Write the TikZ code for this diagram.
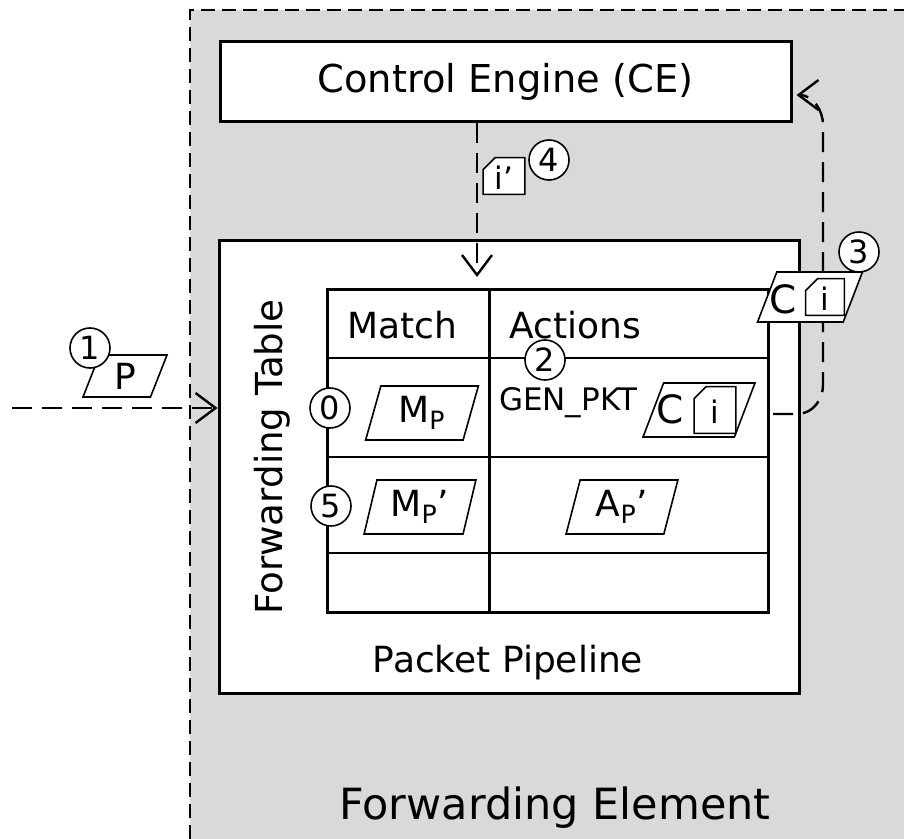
\documentclass[tikz,border=0pt]{standalone}
\usepackage{fontspec}
\setmainfont{DejaVu Sans}
\usetikzlibrary{arrows.meta,shapes.geometric,calc}
\definecolor{fegray}{RGB}{217,217,217}
% small packet with a cut corner: name, position, width, height, text
\newcommand{\pkttag}[5]{%
  \node[minimum width=#3,minimum height=#4,inner sep=0pt] (#1) at (#2) {};
  \draw[fill=white,line width=0.8pt] (#1.south west) -- ([yshift=-6pt]#1.north west)
    -- ([xshift=6pt]#1.north west) -- (#1.north east) -- (#1.south east) -- cycle;
  \node[font=\fontsize{15.5}{16}\selectfont] (#1-text) at ([yshift=-1pt]#1.center) {#5};}

\begin{document}
\begin{tikzpicture}[x=0.5pt,y=-0.5pt,>={Straight Barb[length=10pt,width=15pt]},
  every node/.style={font=\fontsize{18}{21}\selectfont},
  box/.style={draw,line width=1.5pt,fill=white},
  flow/.style={->,line width=1.2pt,dash pattern=on 10pt off 5pt},
  pkt/.style={trapezium,trapezium left angle=75,trapezium right angle=105,
    trapezium stretches=true,draw,fill=white,line width=0.8pt,inner sep=0pt},
  num/.style={circle,draw,fill=white,line width=0.8pt,minimum size=20pt,
    inner sep=0pt,font=\fontsize{16}{16}\selectfont}]
  \useasboundingbox (0,0) rectangle (904,839);
  % forwarding element
  \fill[fegray] (190,10) rectangle (904,839);
  \draw[line width=1pt,dash pattern=on 7pt off 3.5pt] (190,839) -- (190,10) -- (904,10);
  \node[font=\fontsize{21.5}{25}\selectfont] (fe) at (555,808) {Forwarding Element};

  \node[box,minimum width=285.5pt,minimum height=40pt,font=\fontsize{19.2}{22}\selectfont] (ce) at (505.5,82) {Control Engine (CE)};
  \node[box,minimum width=290pt,minimum height=226pt] (pp) at (509,467) {};
  \node (pplabel) at (508,663) {Packet Pipeline};

  % forwarding table
  \draw[line width=1.5pt] (327,290) rectangle (768,612) (489,290) -- (489,612);
  \foreach \y in {358,457,553}
    \draw[line width=1pt] (327,\y) -- (768,\y);
  \node[rotate=90,font=\fontsize{18.6}{21}\selectfont] (ft) at (272,457) {Forwarding Table};
  \node (match) at (402,325) {Match};
  \node (actions) at (575,325) {Actions};

  \node[pkt,minimum width=56.5pt,minimum height=27pt] (mp) at (422,413) {M\textsubscript{P}};
  \node[font=\fontsize{15.5}{18}\selectfont] (genpkt) at (568,403) {GEN\_PKT};
  \node[pkt,minimum width=56pt,minimum height=27pt] (gen) at (699,410) {\phantom{C}};
  \node[font=\fontsize{19.5}{22}\selectfont] (genc) at (670,409) {C};
  \pkttag{geni}{715,410}{20.5pt}{23pt}{i}
  \node[pkt,minimum width=56pt,minimum height=27pt] (mp2) at (420,507) {M\textsubscript{P}’};
  \node[pkt,minimum width=56pt,minimum height=27pt] (ap2) at (622,507) {A\textsubscript{P}’};

  % packet flows
  \coordinate (in) at (12,408);
  \draw[flow] (in) -- (in -| pp.west);
  \node[pkt,minimum width=42pt,minimum height=21pt] (p) at (125,376) {P};

  \coordinate (down) at (477,277);
  \draw[flow] (down |- ce.south) -- (down);
  \pkttag{itag}{504,176}{20.5pt}{18pt}{i’}

  \coordinate (out) at (773,414);
  \draw[flow] (out) -- (797,414) to[out=0,in=-90] (823,385) -- (823,125)
    to[out=90,in=0] ($(ce.east)+(4,13)$);
  \node[pkt,minimum width=52.5pt,minimum height=25pt] (sent) at (810,297) {\phantom{C}};
  \node[font=\fontsize{19.5}{22}\selectfont] (sentc) at (783,299) {C};
  \pkttag{senti}{825,297}{19pt}{18pt}{i}

  % steps
  \node[num] (s0) at (330,408) {0};
  \node[num] (s1) at (90,348) {1};
  \node[num] (s2) at (545,360) {2};
  \node[num] (s3) at (859,252) {3};
  \node[num] (s4) at (549,160) {4};
  \node[num] (s5) at (331,506) {5};
\end{tikzpicture}
\end{document}
